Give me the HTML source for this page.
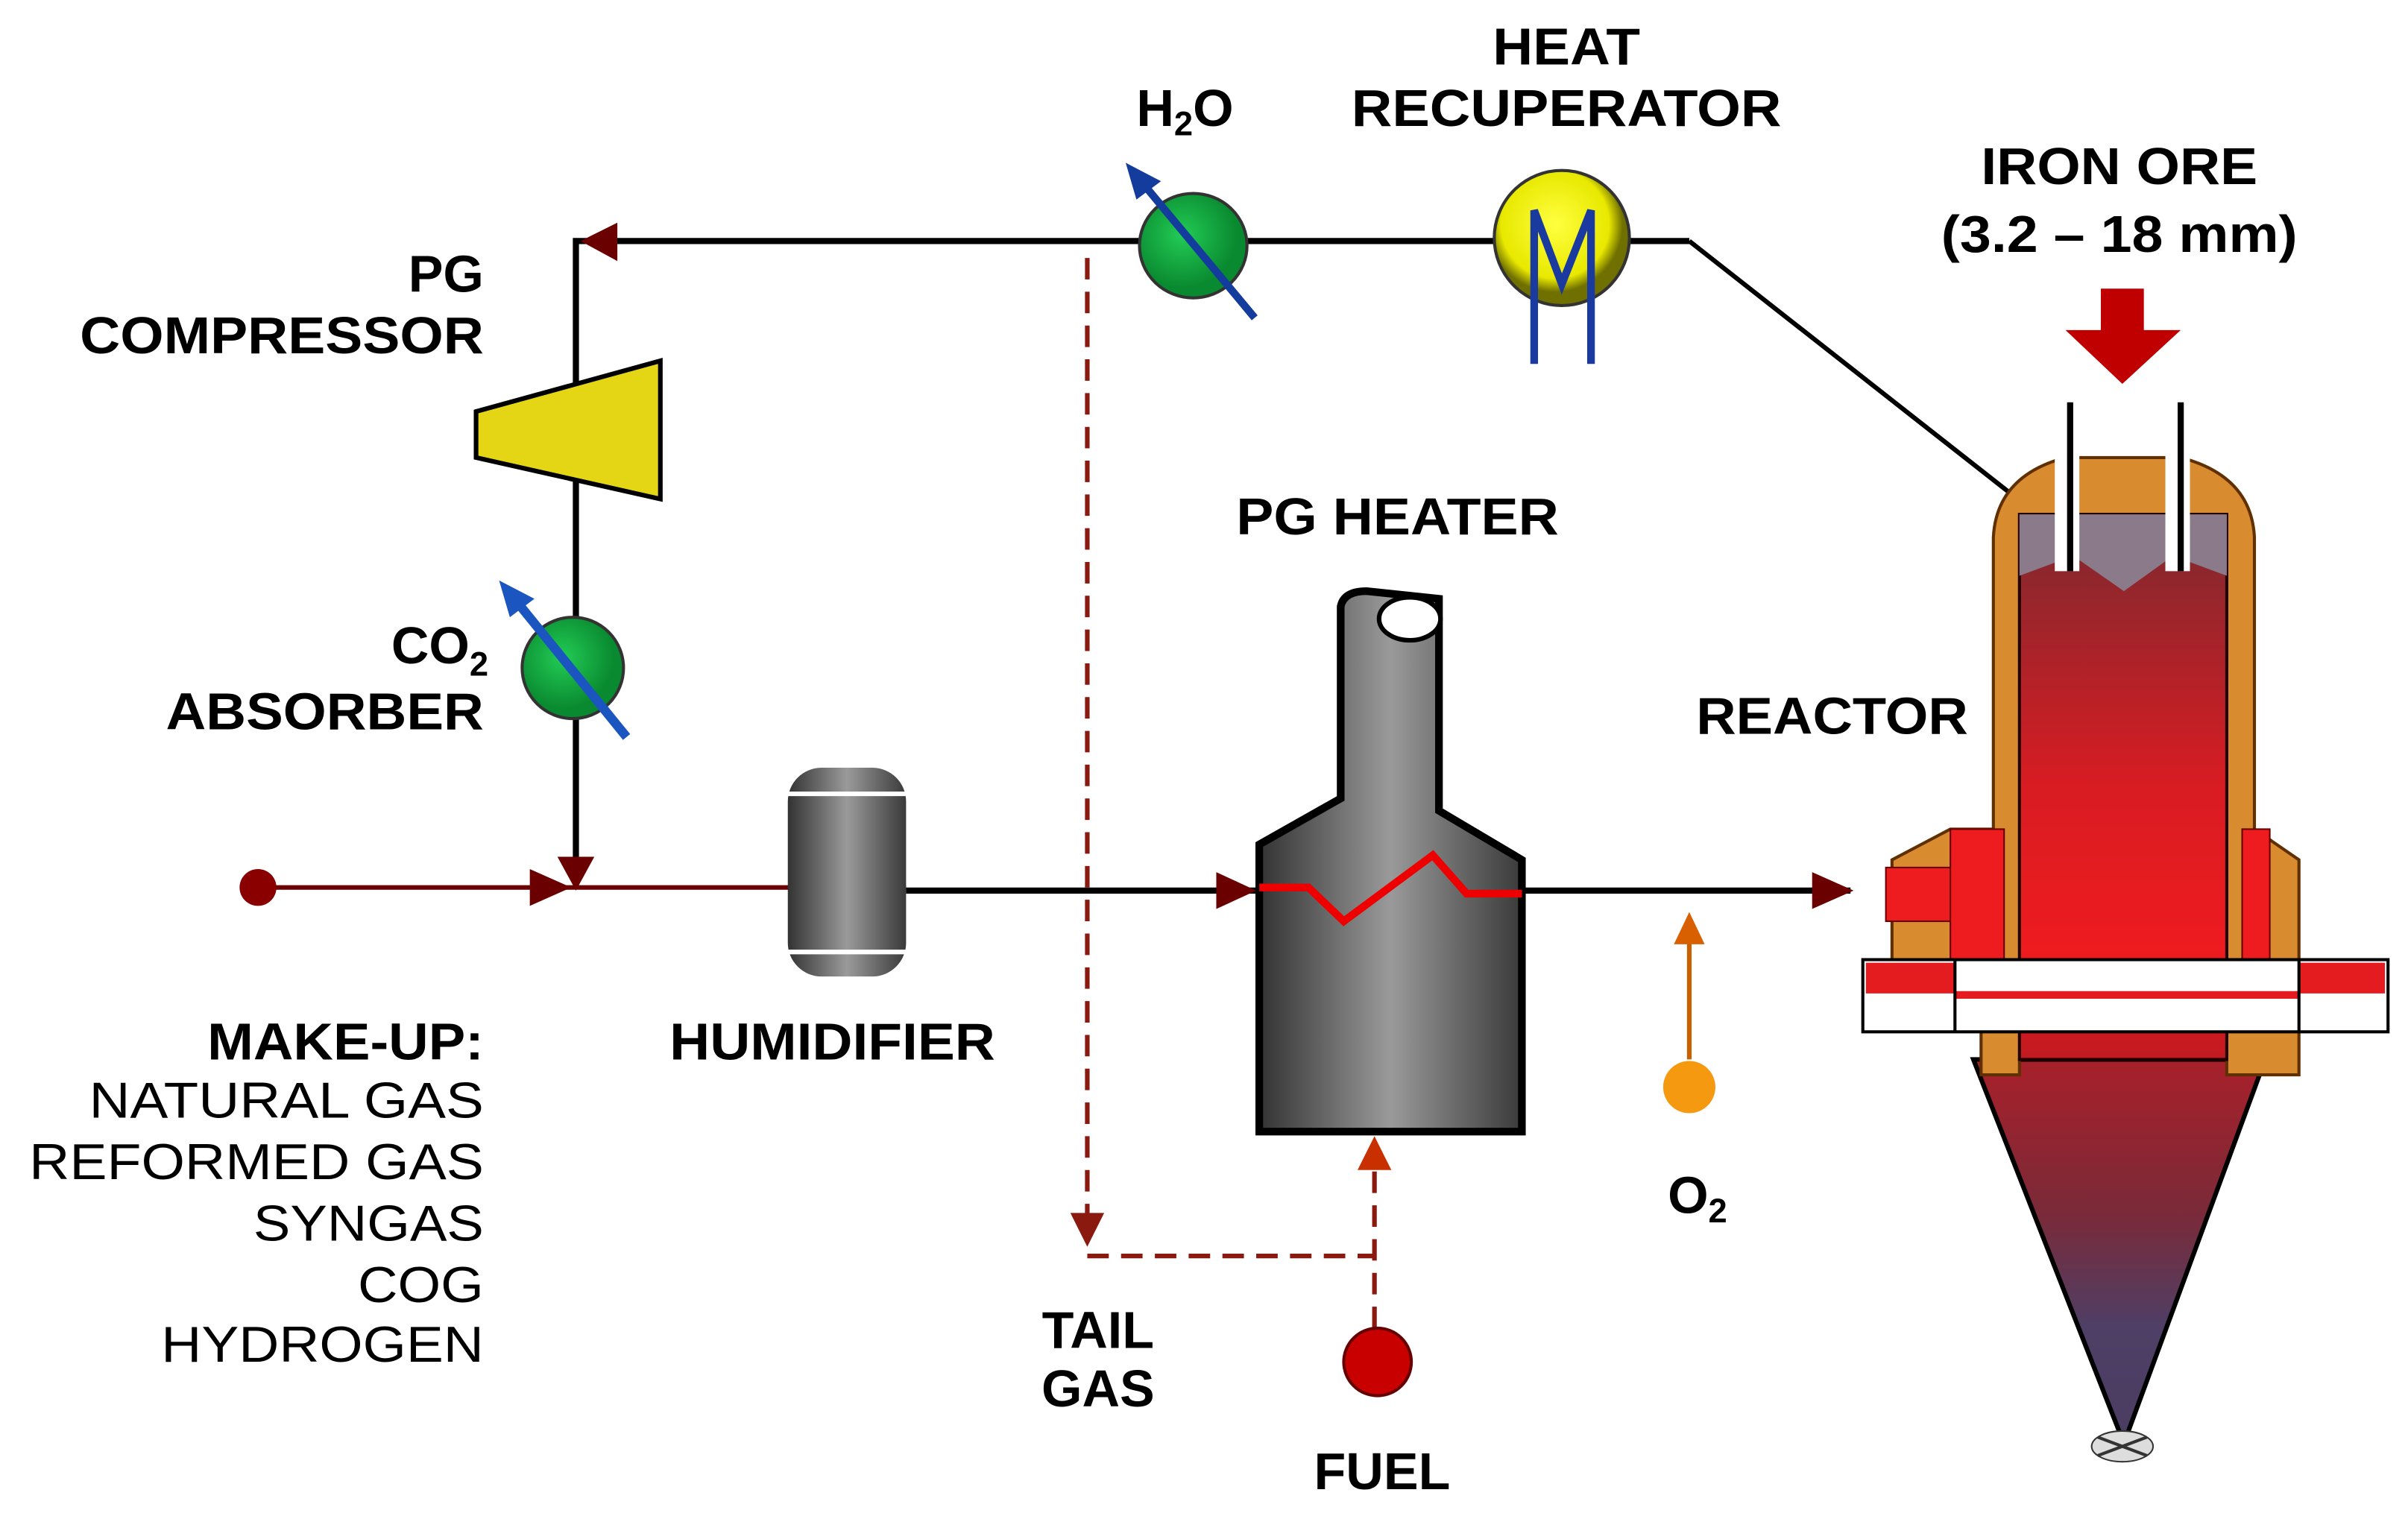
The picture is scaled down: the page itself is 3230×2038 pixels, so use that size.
<!DOCTYPE html>
<html><head><meta charset="utf-8"><style>html,body{margin:0;padding:0;background:#fff}svg{display:block}</style></head>
<body>
<svg width="3230" height="2038" viewBox="0 0 1568 989.3" preserveAspectRatio="none" xmlns="http://www.w3.org/2000/svg" font-family="Liberation Sans, Arial, sans-serif">
<defs>
<linearGradient id="gry" x1="0" x2="1" y1="0" y2="0"><stop offset="0" stop-color="#333"/><stop offset="0.5" stop-color="#9a9a9a"/><stop offset="1" stop-color="#3a3a3a"/></linearGradient>
<linearGradient id="rd" x1="0" x2="0" y1="0" y2="1"><stop offset="0" stop-color="#7a2a30"/><stop offset="0.5" stop-color="#d81c22"/><stop offset="0.8" stop-color="#ee1b1f"/><stop offset="1" stop-color="#c01a20"/></linearGradient>
<linearGradient id="cone" x1="0" x2="0" y1="0" y2="1"><stop offset="0" stop-color="#a8202a"/><stop offset="0.4" stop-color="#7a2a38"/><stop offset="0.7" stop-color="#4e3f66"/><stop offset="1" stop-color="#4a3d60"/></linearGradient>
<radialGradient id="grn" cx="0.4" cy="0.4"><stop offset="0" stop-color="#22cc55"/><stop offset="1" stop-color="#0a8a30"/></radialGradient>
<radialGradient id="yel" cx="0.45" cy="0.4"><stop offset="0" stop-color="#ffff40"/><stop offset="0.8" stop-color="#e8e800"/><stop offset="1" stop-color="#707000"/></radialGradient>
</defs>
<g fill="none" stroke="#000" stroke-width="4">
<polyline points="1100,157 375,157 375,578"/>
<line x1="1100" y1="157" x2="1310" y2="322" stroke-width="3"/>
<line x1="168" y1="578" x2="590" y2="578" stroke="#6a0000" stroke-width="3"/>
<line x1="590" y1="580" x2="820" y2="580"/>
<line x1="991" y1="580" x2="1205" y2="580"/>
</g>
<g fill="#6a0000">
<polygon points="378,157 402,145 402,170"/>
<polygon points="345,566 372,578 345,590"/>
<polygon points="363,558 387,558 375,580"/>
<polygon points="792,568 818,580 792,592"/>
<polygon points="1180,568 1207,580 1180,592"/>
</g>
<circle cx="168" cy="578" r="12" fill="#8a0000"/>
<g fill="none" stroke="#8a1a10" stroke-width="3" stroke-dasharray="14,8">
<line x1="708" y1="168" x2="708" y2="800"/>
<polyline points="708,818 895,818"/>
<line x1="895" y1="865" x2="895" y2="758"/>
</g>
<polygon points="697,790 719,790 708,812" fill="#8a1a10"/>
<polygon points="884,762 906,762 895,740" fill="#c83000"/>
<circle cx="897" cy="887" r="22" fill="#c80000" stroke="#600" stroke-width="2"/>
<line x1="1100" y1="690" x2="1100" y2="610" stroke="#c86000" stroke-width="3"/>
<polygon points="1090,615 1110,615 1100,594" fill="#d86000"/>
<circle cx="1100" cy="708" r="17" fill="#f59a10"/>
<polygon points="310,268 430,235 430,325 310,298" fill="#e4d614" stroke="#000" stroke-width="3"/>
<circle cx="373" cy="435" r="33" fill="url(#grn)" stroke="#333" stroke-width="2"/>
<line x1="408" y1="480" x2="335" y2="390" stroke="#1a55c0" stroke-width="6"/>
<polygon points="325,378 348,390 332,402" fill="#1a55c0"/>
<ellipse cx="777" cy="160" rx="35" ry="34" fill="url(#grn)" stroke="#333" stroke-width="2"/>
<line x1="817" y1="207" x2="743" y2="118" stroke="#143c9c" stroke-width="5"/>
<polygon points="733,106 756,118 740,130" fill="#143c9c"/>
<circle cx="1017" cy="155" r="44" fill="url(#yel)" stroke="#333" stroke-width="2"/>
<polyline points="999,237 999,137 1017,185 1036,137 1036,237" fill="none" stroke="#1a3aa0" stroke-width="5"/>
<rect x="513" y="500" width="77" height="136" rx="22" fill="url(#gry)"/>
<line x1="513" y1="517" x2="590" y2="517" stroke="#fff" stroke-width="3"/>
<line x1="513" y1="620" x2="590" y2="620" stroke="#fff" stroke-width="3"/>
<path d="M820,550 L873,520 L873,395 Q875,385 890,385 L937,390 L937,528 L991,560 L991,737 L820,737 Z" fill="url(#gry)" stroke="#000" stroke-width="5"/>
<ellipse cx="918" cy="403" rx="20" ry="14" fill="#fff" stroke="#000" stroke-width="3"/>
<polyline points="820,578 852,578 875,600 933,557 955,582 991,582" fill="none" stroke="#e00" stroke-width="5"/>
<!-- reactor -->
<polygon points="1285,690 1475,690 1383,940" fill="url(#cone)" stroke="#000" stroke-width="3"/>
<path d="M1298,350 Q1300,310 1345,298 L1420,298 Q1466,310 1468,350 L1468,540 L1497,560 L1497,700 L1450,700 L1450,690 L1315,690 L1315,700 L1290,700 L1290,625 L1232,625 L1232,560 L1270,540 L1298,540 Z" fill="#d98b30" stroke="#603000" stroke-width="2"/>
<path d="M1315,335 L1450,335 L1450,690 L1315,690 Z" fill="url(#rd)" stroke="#200" stroke-width="2"/>
<path d="M1315,335 L1450,335 L1450,375 L1415,362 L1383,385 L1350,362 L1315,375 Z" fill="#8a7a8a"/>
<rect x="1228" y="565" width="60" height="35" fill="#ee1b1f" stroke="#600" stroke-width="1"/>
<rect x="1270" y="540" width="35" height="85" fill="#ee1b1f" stroke="#600" stroke-width="1"/>
<rect x="1460" y="540" width="18" height="85" fill="#ee1b1f" stroke="#600" stroke-width="1"/>
<rect x="1213" y="625" width="342" height="47" fill="#fff" stroke="#000" stroke-width="2"/>
<rect x="1215" y="627" width="58" height="20" fill="#e41b1f"/>
<rect x="1497" y="627" width="56" height="20" fill="#e41b1f"/>
<line x1="1273" y1="648" x2="1497" y2="648" stroke="#e41b1f" stroke-width="5"/>
<line x1="1273" y1="625" x2="1273" y2="672" stroke="#000" stroke-width="2"/>
<line x1="1497" y1="625" x2="1497" y2="672" stroke="#000" stroke-width="2"/>
<rect x="1338" y="262" width="16" height="110" fill="#fff"/><line x1="1348" y1="262" x2="1348" y2="372" stroke="#000" stroke-width="4"/>
<rect x="1410" y="262" width="16" height="110" fill="#fff"/><line x1="1420" y1="262" x2="1420" y2="372" stroke="#000" stroke-width="4"/>
<ellipse cx="1382" cy="942" rx="20" ry="10" fill="#ddd" stroke="#333" stroke-width="1"/>
<path d="M1366,936 L1398,948 M1366,948 L1398,936" stroke="#333" stroke-width="2"/>
<polygon points="1368,188 1396,188 1396,215 1420,215 1382,250 1345,215 1368,215" fill="#c00000"/>
<g font-weight="bold" font-size="34" fill="#000" lengthAdjust="spacingAndGlyphs">
<text x="1020" y="42" text-anchor="middle" textLength="96" lengthAdjust="spacingAndGlyphs">HEAT</text>
<text x="1020" y="82" text-anchor="middle" textLength="280" lengthAdjust="spacingAndGlyphs">RECUPERATOR</text>
<text x="740" y="82">H<tspan font-size="22" dy="6">2</tspan><tspan dy="-6">O</tspan></text>
<text x="1380" y="120" text-anchor="middle" textLength="180" lengthAdjust="spacingAndGlyphs">IRON ORE</text>
<text x="1380" y="164" text-anchor="middle" textLength="232" lengthAdjust="spacingAndGlyphs">(3.2 – 18 mm)</text>
<text x="315" y="190" text-anchor="end">PG</text>
<text x="315" y="230" text-anchor="end" textLength="263" lengthAdjust="spacingAndGlyphs">COMPRESSOR</text>
<text x="910" y="348" text-anchor="middle" textLength="210" lengthAdjust="spacingAndGlyphs">PG HEATER</text>
<text x="318" y="432" text-anchor="end">CO<tspan font-size="22" dy="8">2</tspan></text>
<text x="315" y="475" text-anchor="end" textLength="207" lengthAdjust="spacingAndGlyphs">ABSORBER</text>
<text x="1193" y="478" text-anchor="middle" textLength="177" lengthAdjust="spacingAndGlyphs">REACTOR</text>
<text x="315" y="690" text-anchor="end" textLength="180" lengthAdjust="spacingAndGlyphs">MAKE-UP:</text>
<text x="542" y="690" text-anchor="middle" textLength="212" lengthAdjust="spacingAndGlyphs">HUMIDIFIER</text>
<text x="1086" y="790">O<tspan font-size="22" dy="6">2</tspan></text>
<text x="715" y="878" text-anchor="middle">TAIL</text>
<text x="715" y="916" text-anchor="middle">GAS</text>
<text x="900" y="970" text-anchor="middle">FUEL</text>
</g>
<g font-size="33" fill="#000" text-anchor="end">
<text x="315" y="728" textLength="257" lengthAdjust="spacingAndGlyphs">NATURAL GAS</text>
<text x="315" y="768" textLength="296" lengthAdjust="spacingAndGlyphs">REFORMED GAS</text>
<text x="315" y="808" textLength="150" lengthAdjust="spacingAndGlyphs">SYNGAS</text>
<text x="315" y="848" textLength="82" lengthAdjust="spacingAndGlyphs">COG</text>
<text x="315" y="887" textLength="210" lengthAdjust="spacingAndGlyphs">HYDROGEN</text>
</g>
</svg>
</body></html>
